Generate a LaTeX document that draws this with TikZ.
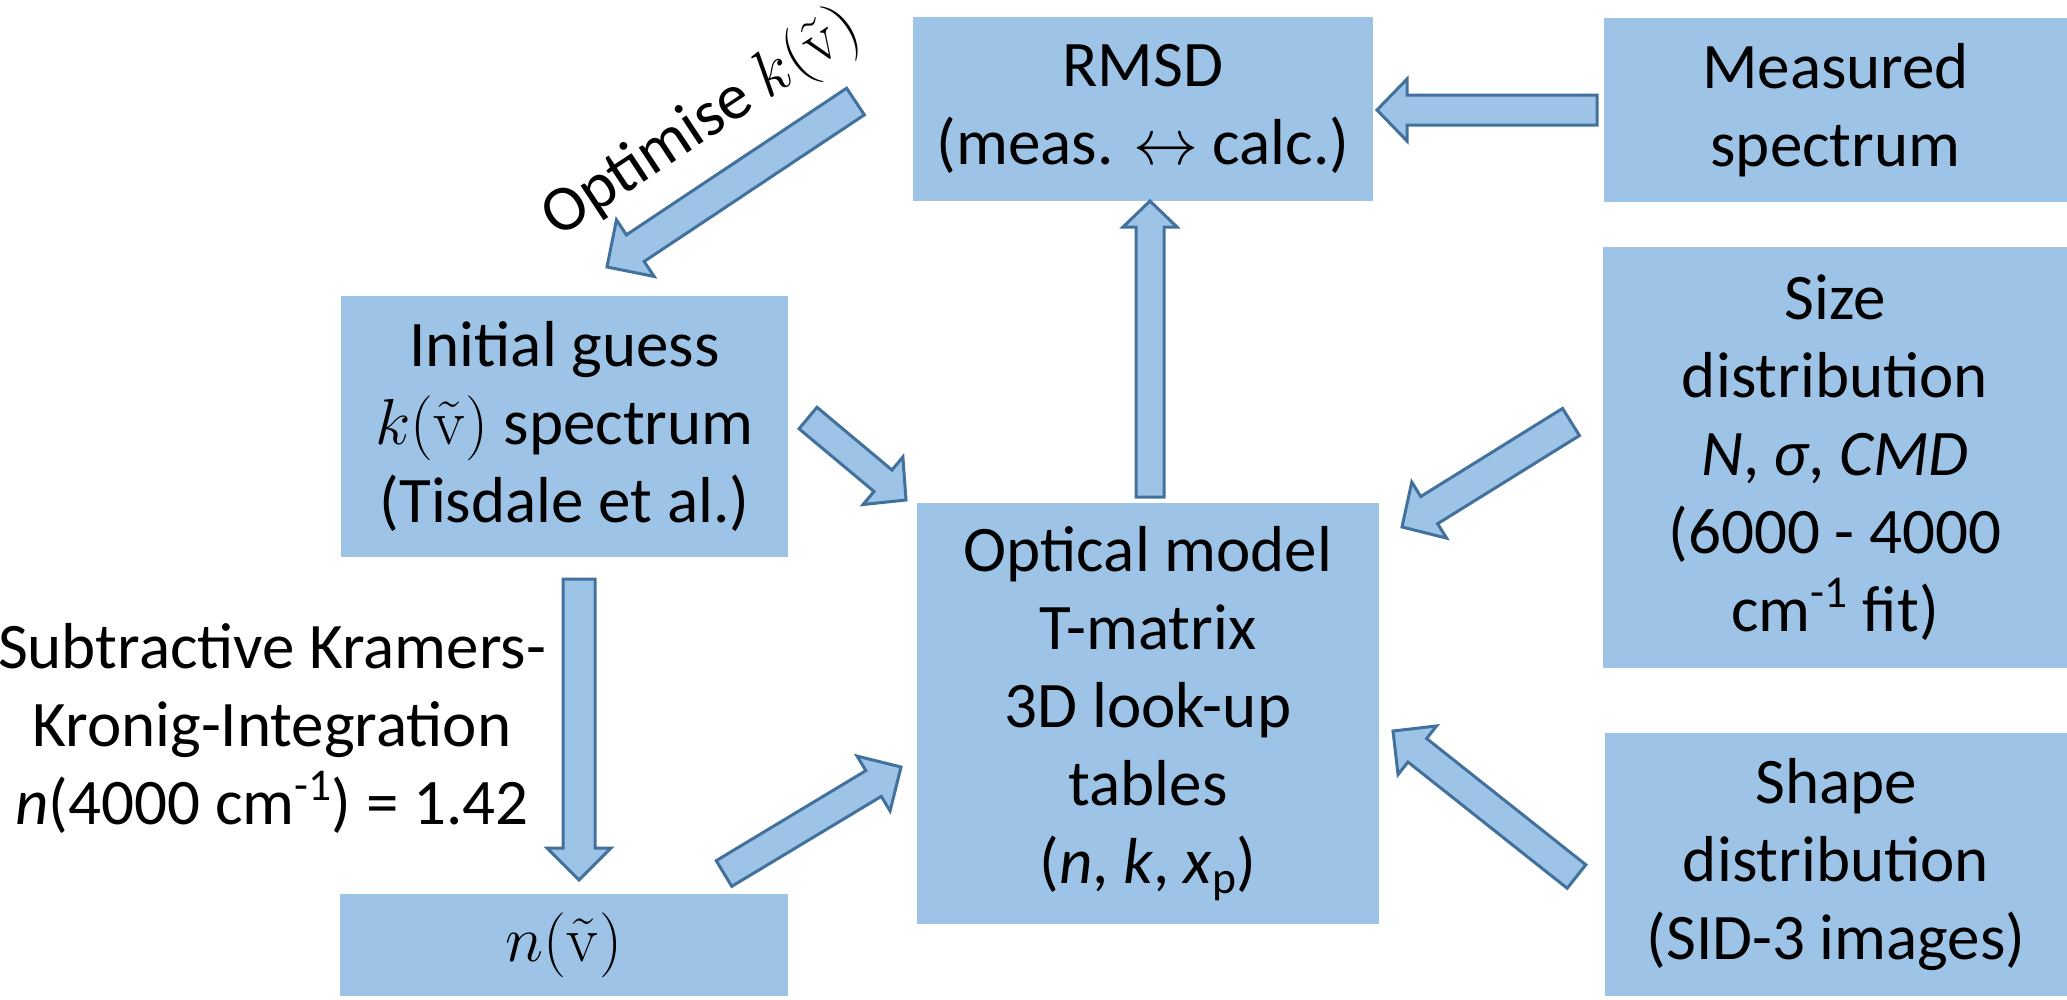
\RequirePackage{fix-cm}
\documentclass[tikz,border=0pt]{standalone}
\usepackage[no-math]{fontspec}
\setmainfont{Carlito}
\usetikzlibrary{calc}
\definecolor{boxblue}{HTML}{9DC3E6}
\definecolor{edgeblue}{HTML}{41719C}
\newcommand\diagfont{\fontsize{65}{78}\selectfont}
% block arrow: #1 tail, #2 tip, #3 half shaft, #4 half head, #5 head length
\newcommand\blockarr[5]{%
  \coordinate (hb) at ($(#2)!#5!(#1)$);
  \draw[barrow] ($(#1)!#3!90:(#2)$) -- ($(hb)!#3!-90:(#1)$) -- ($(hb)!#4!-90:(#1)$) -- (#2)
     -- ($(hb)!#4!90:(#1)$) -- ($(hb)!#3!90:(#1)$) -- ($(#1)!#3!-90:(#2)$) -- cycle;
}
\begin{document}
\begin{tikzpicture}[x=1pt,y=-1pt,
  box/.style={fill=boxblue, inner sep=0pt, align=center, font=\diagfont},
  lbl/.style={inner sep=0pt, align=center, font=\diagfont},
  barrow/.style={fill=boxblue, draw=edgeblue, line width=3pt, line join=miter}]
\useasboundingbox (0,0) rectangle (2067,999);

% boxes
\node[box, minimum width=460pt, minimum height=184pt] (rmsd) at (1143,109)
  {RMSD\\(meas. $\leftrightarrow$ calc.)};
\node[box, minimum width=463pt, minimum height=184pt] (meas) at (1835.5,110)
  {Measured\\spectrum};
\node[box, minimum width=447pt, minimum height=261pt] (init) at (564.5,426.5)
  {Initial guess\\$k(\tilde{\mathrm{v}})$ spectrum\\(Tisdale et al.)};
\node[box, minimum width=462pt, minimum height=421pt] (opt) at (1148,713.5)
  {Optical model\\T-matrix\\3D look-up\\tables\\(\textit{n}, \textit{k}, \textit{x}\textsubscript{p})};
\node[box, minimum width=464pt, minimum height=421pt] (size) at (1835,457.5)
  {Size\\distribution\\\textit{N}, \textit{σ}, \textit{CMD}\\(6000 - 4000\\cm\textsuperscript{-1} fit)};
\node[box, minimum width=462pt, minimum height=263pt] (shape) at (1836,864.5)
  {Shape\\distribution\\(SID-3 images)};
\node[box, minimum width=448pt, minimum height=102pt] (nbox) at (564,945)
  {$n(\tilde{\mathrm{v}})$};

% free labels
\node[lbl] (sk) at (272,728)
  {Subtractive Kramers-\\Kronig-Integration\\\textit{n}(4000 cm\textsuperscript{-1}) = 1.42};
\node[lbl, rotate=33.5] (optlabel) at (702,124) {Optimise $k(\tilde{\mathrm{v}})$};

% arrow ends
\coordinate (a1t) at (1597,110);   \coordinate (a1h) at (1377,110);
\coordinate (a2t) at (1150,497);   \coordinate (a2h) at (1150,201);
\coordinate (a3t) at (579,579);    \coordinate (a3h) at (579,880);
\coordinate (a4t) at (855.5,101.5);\coordinate (a4h) at (607,267);
\coordinate (a5t) at (808,418);    \coordinate (a5h) at (906,500);
\coordinate (a6t) at (724,873.5);  \coordinate (a6h) at (901,767);
\coordinate (a7t) at (1571,422);   \coordinate (a7h) at (1402,527);
\coordinate (a8t) at (1576.5,876.5);\coordinate (a8h) at (1393,731);

\blockarr{a1t}{a1h}{15pt}{31pt}{30pt}
\blockarr{a2t}{a2h}{14pt}{27pt}{26pt}
\blockarr{a3t}{a3h}{16pt}{32pt}{32pt}
\blockarr{a4t}{a4h}{16pt}{34pt}{34pt}
\blockarr{a5t}{a5h}{14pt}{31pt}{30pt}
\blockarr{a6t}{a6h}{15pt}{32pt}{32pt}
\blockarr{a7t}{a7h}{16pt}{33pt}{32pt}
\blockarr{a8t}{a8h}{15pt}{31pt}{31pt}
\end{tikzpicture}
\end{document}
